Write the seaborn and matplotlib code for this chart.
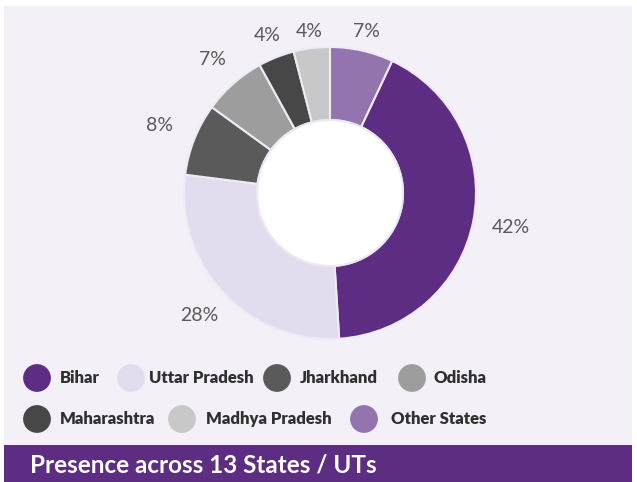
import matplotlib
matplotlib.use('Agg')
import matplotlib.pyplot as plt
import seaborn as sns
import numpy as np
from matplotlib.patches import Rectangle, Circle

# Data
states = ['Bihar', 'Uttar Pradesh', 'Jharkhand', 'Odisha',
          'Maharashtra', 'Madhya Pradesh', 'Other States']
share = [42, 28, 8, 7, 4, 4, 7]
colors = ['#5c2d82', '#e2dcee', '#5a5a5a', '#9c9d9c',
          '#474747', '#c7c8c7', '#9474af']
banner_text = 'Presence across 13 States / UTs'

sns.set_theme(style='white')
plt.rcParams['font.family'] = ['Lato', 'DejaVu Sans']

W, H = 637, 482
fig = plt.figure(figsize=(W / 100, H / 100), dpi=100)
fig.patch.set_facecolor('white')

# background layer in pixel coords (y down): panel, banner, legend
bg = fig.add_axes([0, 0, 1, 1], zorder=0)
bg.set_xlim(0, W)
bg.set_ylim(H, 0)
bg.set_axis_off()
bg.add_patch(Rectangle((4, 6), 628, 439, facecolor='#f3f0f7', edgecolor='none'))
bg.add_patch(Rectangle((4, 445), 628, 37, facecolor='#5c2d82', edgecolor='none'))
bg.text(30, 465, banner_text, color='white', fontsize=17.5,
        fontweight='bold', ha='left', va='center')

marker_x = [37, 131, 277, 412, 37, 182, 364]
text_x = [60, 149, 300, 433, 60, 206, 391]
row_y = [378, 378, 378, 378, 419, 419, 419]
bg.scatter(marker_x, row_y, s=400, c=colors, edgecolors='none')
for name, tx, ty in zip(states, text_x, row_y):
    bg.text(tx, ty, name, fontsize=12, fontweight='heavy', color='#303030',
            ha='left', va='center')

# Donut
cx, cy, R = 330, 193, 146
ax = fig.add_axes([(cx - R) / W, (H - cy - R) / H, 2 * R / W, 2 * R / H], zorder=2)
ax.patch.set_alpha(0)
start = 90 - share[-1] / sum(share) * 360
wedges, _ = ax.pie(share, colors=colors, startangle=start, counterclock=False,
                   radius=1,
                   wedgeprops=dict(width=0.5, edgecolor='#efeaf4', linewidth=1.5))
ax.add_patch(Circle((0, 0), 0.5, facecolor='white', edgecolor='#ece7f2',
                    linewidth=1.5, zorder=5))

# percentage labels: text box kept a fixed gap outside the ring
half_w, half_h, gap = 0.2, 0.03, 0.06
for w, v in zip(wedges, share):
    ang = np.deg2rad((w.theta1 + w.theta2) / 2)
    dx, dy = np.cos(ang), np.sin(ang)
    d = 1 + gap + abs(dx) * half_w + abs(dy) * half_h
    ax.text(d * dx, d * dy, f'{v}%', fontsize=14, color='#5a5a5a',
            ha='center', va='center')

ax.set_xlim(-1, 1)
ax.set_ylim(-1, 1)
ax.set_axis_off()

fig.savefig('out.png', dpi=100)
